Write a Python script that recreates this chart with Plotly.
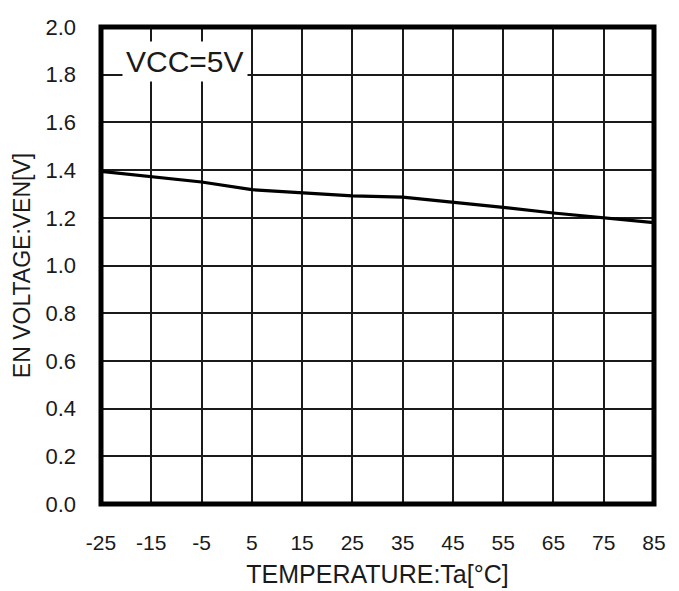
import plotly.graph_objects as go

temperature = [-25, -15, -5, 5, 15, 25, 35, 45, 55, 65, 75, 85]
en_voltage = [1.395, 1.373, 1.350, 1.318, 1.305, 1.292, 1.287, 1.267, 1.244, 1.220, 1.200, 1.180]

x_ticks = [-25, -15, -5, 5, 15, 25, 35, 45, 55, 65, 75, 85]
y_ticks = [0.0, 0.2, 0.4, 0.6, 0.8, 1.0, 1.2, 1.4, 1.6, 1.8, 2.0]

FONT = "Liberation Sans, Arial, sans-serif"

fig = go.Figure()
fig.add_trace(go.Scatter(
    x=temperature, y=en_voltage, mode="lines",
    line=dict(color="black", width=3.2), showlegend=False,
))

fig.update_layout(
    width=671, height=583,
    margin=dict(l=93, r=25, t=19, b=87, autoexpand=False),
    paper_bgcolor="white", plot_bgcolor="white",
    font=dict(family=FONT, color="#1a1a1a", size=22),
    xaxis=dict(
        range=[-25, 85], tickvals=x_ticks, ticktext=[str(v) for v in x_ticks],
        showgrid=True, gridcolor="#1a1a1a", gridwidth=1.6,
        zeroline=False, showline=False, ticks="",
        ticklabelstandoff=24, tickfont=dict(size=21),
        title=dict(text="TEMPERATURE:Ta[°C]", font=dict(size=25), standoff=12),
        automargin=False,
    ),
    yaxis=dict(
        range=[0, 2.0], tickvals=y_ticks, ticktext=[f"{v:.1f}" for v in y_ticks],
        showgrid=True, gridcolor="#1a1a1a", gridwidth=1.6,
        zeroline=False, showline=False, ticks="",
        ticklabelstandoff=24, tickfont=dict(size=22),
        title=dict(text="EN VOLTAGE:VEN[V]", font=dict(size=23), standoff=8),
        automargin=False,
    ),
    shapes=[dict(type="rect", xref="paper", yref="paper", x0=0, x1=1, y0=0, y1=1,
                 line=dict(color="black", width=5), layer="above")],
    annotations=[dict(
        text="VCC=5V", xref="x", yref="y", x=-8.3, y=1.855, showarrow=False,
        font=dict(size=30, color="#1a1a1a", family=FONT), bgcolor="white",
        borderpad=3,
    )],
)

fig.write_html("out.html")
